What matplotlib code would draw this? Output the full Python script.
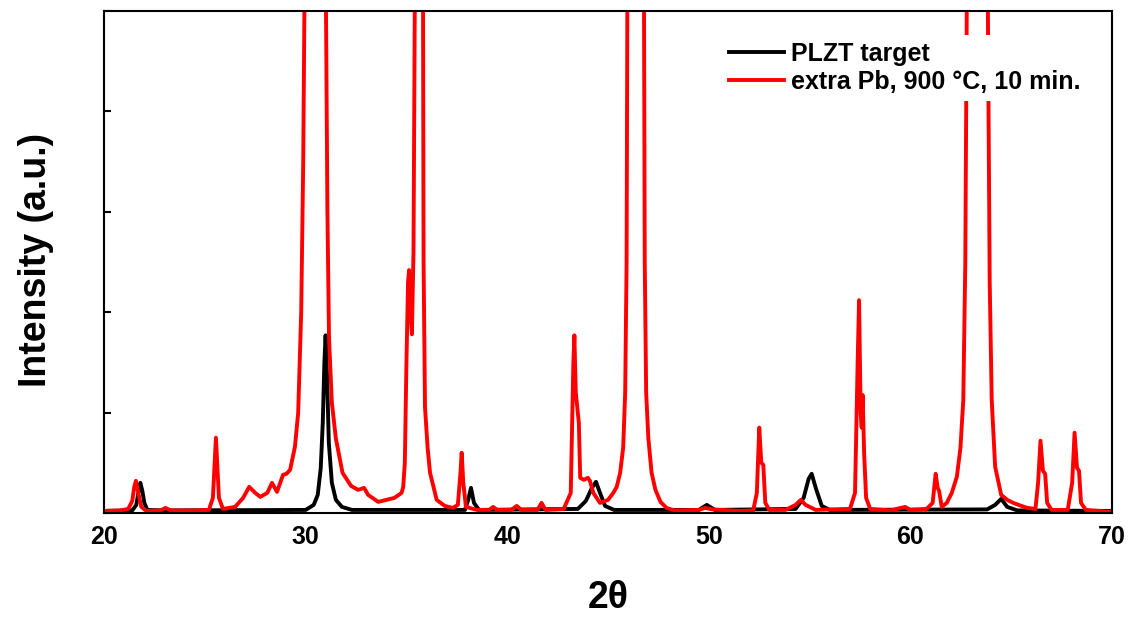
import matplotlib
matplotlib.use('Agg')
import matplotlib.pyplot as plt

plt.rcParams['font.family'] = ['Liberation Sans', 'DejaVu Sans']
plt.rcParams['font.weight'] = 'bold'

# PLZT target pattern (2theta, intensity a.u.)
plzt_2theta = [20.0, 21.4, 21.6, 21.72, 21.8, 21.9, 22.0, 22.15, 23.0,
               30.0, 30.4, 30.6, 30.75, 30.85, 30.93, 30.99, 31.07, 31.15, 31.3, 31.5, 31.8, 32.3,
               37.9, 38.05, 38.2, 38.35, 38.6,
               43.5, 43.9, 44.2, 44.4, 44.6, 44.85, 45.3,
               49.5, 49.9, 50.3,
               54.3, 54.7, 54.95, 55.1, 55.3, 55.6, 56.0,
               63.8, 64.2, 64.5, 64.8, 65.3, 70.0]
plzt_int = [20, 25, 80, 220, 300, 220, 100, 30, 25,
            30, 80, 180, 450, 900, 1500, 1770, 1300, 700, 300, 130, 60, 30,
            30, 120, 250, 100, 30,
            40, 120, 250, 310, 200, 70, 30,
            30, 80, 30,
            40, 150, 340, 390, 250, 70, 30,
            35, 80, 140, 60, 25, 20]

# extra Pb, 900 C, 10 min pattern
pb_2theta = [20.0, 20.8, 21.2, 21.4, 21.5, 21.58, 21.7, 21.85, 22.1, 22.8, 23.05, 23.3, 24.5,
             25.2, 25.4, 25.55, 25.7, 25.9, 26.5, 26.9, 27.2, 27.5, 27.75, 28.1, 28.33,
             28.58, 28.88, 29.05, 29.23, 29.47, 29.63, 29.78, 29.88, 29.95, 30.45,
             31.0, 31.08, 31.16, 31.3, 31.5, 31.83, 32.25, 32.6, 32.9, 33.1, 33.6, 34.0, 34.4,
             34.76, 34.84, 34.92, 35.0, 35.08, 35.13, 35.2, 35.27, 35.35, 35.42, 35.62,
             35.82, 35.85, 35.92, 36.05, 36.17, 36.5, 36.9, 37.3, 37.55, 37.68, 37.74,
             37.82, 37.95, 38.5, 39.1, 39.3, 39.5, 40.2, 40.47, 40.7, 41.5, 41.7, 41.9,
             42.8, 43.15, 43.28, 43.33, 43.4, 43.5, 43.55, 43.62, 43.8, 44.0, 44.1, 44.27,
             44.6, 45.0, 45.26, 45.43, 45.6, 45.75, 45.85, 45.92, 45.96, 46.35, 46.78, 46.82,
             46.89, 47.0, 47.16, 47.35, 47.6, 47.9, 48.3, 49.5, 49.8, 50.2, 51.5, 52.2, 52.38,
             52.5, 52.6, 52.7, 52.8, 53.0, 53.8, 54.3, 54.56, 54.8, 55.3, 56.0, 57.0, 57.25,
             57.38, 57.45, 57.53, 57.58, 57.63, 57.7, 57.8, 58.0, 59.0, 59.73, 60.0, 60.8,
             61.1, 61.25, 61.35, 61.42, 61.55, 61.8, 62.05, 62.3, 62.48, 62.62, 62.72, 62.8,
             63.3, 63.83, 63.93, 64.03, 64.2, 64.5, 64.8, 65.1, 65.5, 65.8, 66.2, 66.33,
             66.45, 66.57, 66.68, 66.78, 67.0, 67.8, 68.02, 68.14, 68.26, 68.36, 68.46, 68.7,
             70.0]
pb_int = [20, 25, 40, 120, 260, 320, 200, 60, 20, 25, 50, 25, 25,
          30, 150, 750, 150, 40, 60, 150, 260, 200, 160, 200, 300,
          210, 380, 390, 430, 660, 1000, 2000, 3500, 5300, 12000,
          5300, 3000, 1740, 1100, 740, 400, 270, 230, 250, 180, 110, 130, 150,
          200, 260, 500, 1500, 2300, 2420, 2000, 1780, 2600, 5300, 12000,
          5300, 2500, 1055, 650, 400, 130, 70, 50, 80, 400, 600,
          300, 60, 30, 30, 60, 30, 30, 70, 30, 30, 100, 30,
          40, 200, 1500, 1770, 1200, 1000, 900, 350, 330, 350, 320, 200,
          100, 130, 200, 260, 400, 650, 1200, 2500, 5300, 12000, 5300, 2500,
          1200, 740, 400, 230, 110, 50, 25, 30, 50, 35, 20, 25, 200,
          850, 500, 480, 100, 30, 30, 80, 130, 80, 30, 35, 40, 200,
          1500, 2120, 1000, 850, 1175, 600, 150, 40, 25, 60, 30, 40,
          100, 390, 250, 220, 60, 100, 200, 360, 650, 1125, 2500, 5300,
          12000, 5300, 2300, 1125, 460, 180, 130, 100, 70, 50, 40, 300,
          720, 420, 390, 100, 30, 30, 300, 800, 450, 420, 100, 30,
          10]

xticks = [20, 30, 40, 50, 60, 70]

fig = plt.figure(figsize=(11.32, 6.18), dpi=100)
ax = fig.add_axes([0.0919, 0.170, 0.8905, 0.812])

ax.plot(plzt_2theta, plzt_int, color='black', lw=2.8, label='PLZT target')
ax.plot(pb_2theta, pb_int, color='#ff0000', lw=2.8, label='extra Pb, 900 °C, 10 min.')

ax.set_xlim(20, 70)
ax.set_ylim(0, 5000)
ax.set_xticks(xticks)
ax.set_yticks([0, 1000, 2000, 3000, 4000, 5000])
ax.set_yticklabels([])
ax.tick_params(axis='x', length=0, pad=9, labelsize=18)
ax.tick_params(axis='y', direction='in', length=5, width=1.5)
for lbl in ax.get_xticklabels():
    lbl.set_fontweight('bold')
for s in ax.spines.values():
    s.set_linewidth(1.5)

ax.set_xlabel('2θ', fontsize=27, fontweight='bold')
ax.xaxis.set_label_coords(0.5, -0.134)
ax.set_ylabel('Intensity (a.u.)', fontsize=27, fontweight='bold')
ax.yaxis.set_label_coords(-0.05, 0.505)

leg = ax.legend(loc='upper left', bbox_to_anchor=(0.6, 0.978), frameon=True,
                edgecolor='none', facecolor='white', framealpha=1,
                prop={'weight': 'bold', 'size': 18}, handlelength=2.2,
                handletextpad=0.3, labelspacing=0.15, borderpad=0.3)

plt.savefig('out.png', dpi=100)
